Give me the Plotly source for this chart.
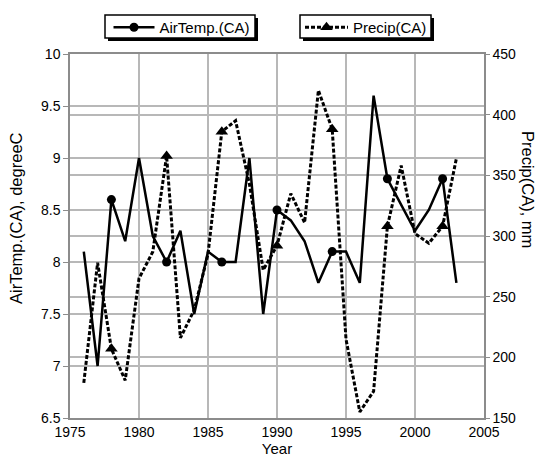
import plotly.graph_objects as go

years = list(range(1976, 2004))
air_temp = [8.1, 7.0, 8.6, 8.2, 9.0, 8.25, 8.0, 8.3, 7.5, 8.1, 8.0, 8.0, 9.0, 7.5,
            8.5, 8.4, 8.2, 7.8, 8.1, 8.1, 7.8, 9.6, 8.8, 8.55, 8.3, 8.5, 8.8, 7.8]
precip = [179, 278, 207, 181, 265, 287, 366, 216, 239, 285, 386, 395, 343, 272,
          292, 335, 311, 420, 388, 215, 155, 172, 308, 358, 302, 294, 308, 364]
marker_years = [1978, 1982, 1986, 1990, 1994, 1998, 2002]

temp_name = "AirTemp.(CA)"
precip_name = "Precip(CA)"
x_title = "Year"
y_title = "AirTemp.(CA), degreeC"
y2_title = "Precip(CA), mm"

FONT = "Liberation Sans, Arial, sans-serif"
DASH = "4px,2px"

mt = [air_temp[years.index(y)] for y in marker_years]
mp = [precip[years.index(y)] for y in marker_years]

fig = go.Figure()
fig.add_trace(go.Scatter(x=years, y=air_temp, mode="lines",
                         line=dict(color="black", width=2.5), showlegend=False))
fig.add_trace(go.Scatter(x=marker_years, y=mt, mode="markers",
                         marker=dict(color="black", size=9, symbol="circle"), showlegend=False))
fig.add_trace(go.Scatter(x=years, y=precip, mode="lines", yaxis="y2",
                         line=dict(color="black", width=3, dash=DASH), showlegend=False))
fig.add_trace(go.Scatter(x=marker_years, y=mp, mode="markers", yaxis="y2",
                         marker=dict(color="black", size=11, symbol="triangle-up"), showlegend=False))
# legend entries
fig.add_trace(go.Scatter(x=[None], y=[None], mode="lines+markers", name=temp_name,
                         line=dict(color="black", width=2.5),
                         marker=dict(color="black", size=9, symbol="circle"), legend="legend"))
fig.add_trace(go.Scatter(x=[None], y=[None], mode="lines+markers", name=precip_name, yaxis="y2",
                         line=dict(color="black", width=3, dash=DASH),
                         marker=dict(color="black", size=11, symbol="triangle-up"), legend="legend2"))

grid = "#b8b8b8"
axline = "#8c8c8c"
L, R, T, B = 70, 60, 54, 43
W, H = 544, 461
pw, ph = W - L - R, H - T - B

def px(xp):
    return (xp - L) / pw

def py(yp):
    return (H - B - yp) / ph

legend_common = dict(bgcolor="rgba(0,0,0,0)", borderwidth=0,
                     font=dict(family=FONT, size=15, color="black"),
                     xref="container", yref="container",
                     xanchor="left", yanchor="top", orientation="h",
                     tracegroupgap=0)

# legend frames (pixel extents) with drop shadows
BOX1 = (105, 15, 255, 38)
BOX2 = (300, 15, 431, 38)
SH = 3
shapes = []
for (x0, y0, x1, y1) in (BOX1, BOX2):
    shapes.append(dict(type="rect", xref="paper", yref="paper",
                       x0=px(x0 + SH), x1=px(x1 + SH), y0=py(y0 + SH), y1=py(y1 + SH),
                       fillcolor="black", line=dict(width=0), layer="above"))
for (x0, y0, x1, y1) in (BOX1, BOX2):
    shapes.append(dict(type="rect", xref="paper", yref="paper",
                       x0=px(x0), x1=px(x1), y0=py(y0), y1=py(y1),
                       fillcolor="white", line=dict(color="black", width=1.5), layer="above"))

fig.update_layout(
    width=W, height=H,
    margin=dict(l=L, r=R, t=T, b=B, autoexpand=False),
    paper_bgcolor="white", plot_bgcolor="white",
    font=dict(family=FONT, size=14, color="black"),
    xaxis=dict(range=[1975, 2005], dtick=5, showgrid=True, gridcolor=grid, gridwidth=1.5,
               showline=True, linecolor=axline, linewidth=1.5, mirror=True, zeroline=False,
               ticks="", tickfont=dict(size=14), automargin=False,
               title=dict(text=x_title, font=dict(size=15), standoff=4)),
    yaxis=dict(range=[6.5, 10], dtick=0.5, showgrid=True, gridcolor=grid, gridwidth=1.5,
               showline=True, linecolor=axline, linewidth=1.5, zeroline=False, automargin=False,
               ticks="outside", ticklen=5, tickcolor=axline, tickfont=dict(size=14)),
    yaxis2=dict(range=[150, 450], dtick=50, overlaying="y", side="right",
                showgrid=True, gridcolor=grid, gridwidth=1.5, automargin=False,
                showline=True, linecolor=axline, linewidth=1.5, zeroline=False,
                ticks="outside", ticklen=4, tickcolor=axline, tickfont=dict(size=14)),
    legend=dict(x=108.5 / W, y=1 - 11 / H, itemwidth=41, **legend_common),
    legend2=dict(x=300 / W, y=1 - 11 / H, itemwidth=43, **legend_common),
    showlegend=True,
    shapes=shapes,
    annotations=[
        dict(text=y_title, xref="paper", yref="paper", x=px(16), y=py(218), showarrow=False,
             textangle=-90, font=dict(size=16.5), xanchor="center", yanchor="middle"),
        dict(text=y2_title, xref="paper", yref="paper", x=px(528), y=py(189), showarrow=False,
             textangle=90, font=dict(size=16.5), xanchor="center", yanchor="middle"),
    ],
)

fig.write_html("out.html", config={"displayModeBar": False},
               post_script="document.body.style.margin='0px';")
